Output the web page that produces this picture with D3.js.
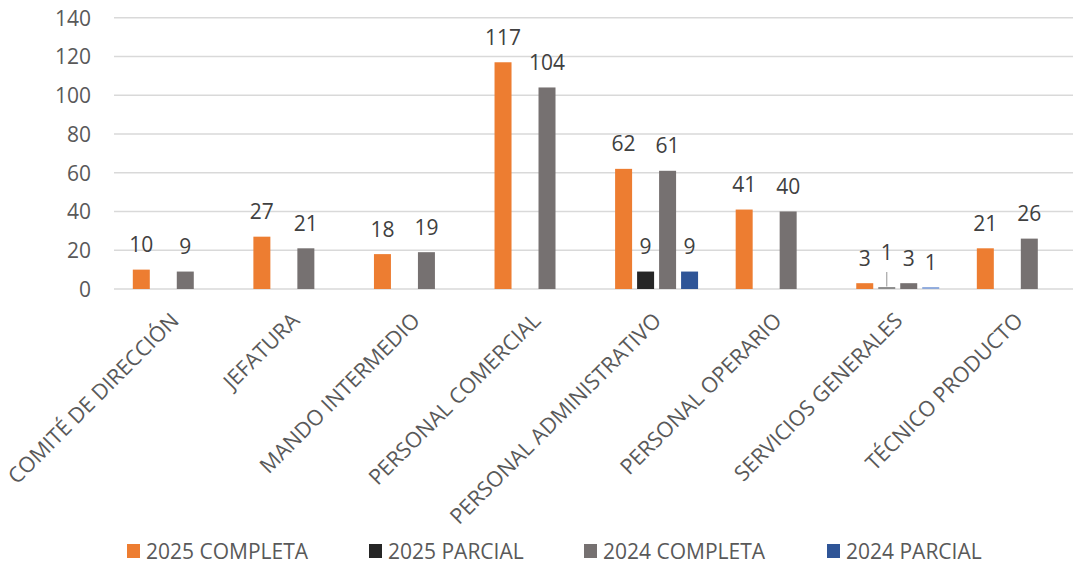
<!DOCTYPE html>
<html>
<head>
<meta charset="utf-8">
<script src="https://cdn.jsdelivr.net/npm/d3@7"></script>
<style>
  html, body { margin: 0; padding: 0; background: #fff; overflow: hidden; }
  svg { display: block; font-family: "Open Sans", sans-serif; }
</style>
</head>
<body>
<svg id="chart" width="1073" height="567"></svg>
<script>
const categories = ["COMITÉ DE DIRECCIÓN", "JEFATURA", "MANDO INTERMEDIO", "PERSONAL COMERCIAL",
  "PERSONAL ADMINISTRATIVO", "PERSONAL OPERARIO", "SERVICIOS GENERALES", "TÉCNICO PRODUCTO"];
const seriesNames = ["2025 COMPLETA", "2025 PARCIAL", "2024 COMPLETA", "2024 PARCIAL"];
const completa2025 = [10, 27, 18, 117, 62, 41, 3, 21];
const parcial2025  = [null, null, null, null, 9, null, 1, null];
const completa2024 = [9, 21, 19, 104, 61, 40, 3, 26];
const parcial2024  = [null, null, null, null, 9, null, 1, null];
const yTicks = [0, 20, 40, 60, 80, 100, 120, 140];

const seriesValues = [completa2025, parcial2025, completa2024, parcial2024];
const colors = ["#ED7D31", "#262626", "#767171", "#2F5597"];

const svg = d3.select("#chart");
const W = 1073;
const plotLeft = 114, plotRight = 1078.6, plotTop = 17.7, plotBottom = 289;
const FS = "21px";

const x0 = d3.scaleBand().domain(categories).range([plotLeft, plotRight]).padding(0);
const bw = x0.bandwidth();
const x1 = d3.scaleBand().domain(seriesNames).range([0, bw]).paddingInner(5 / 22).paddingOuter(0.855);
const y = d3.scaleLinear().domain([0, 140]).range([plotBottom, plotTop]);

// gridlines
svg.append("g").selectAll("line").data(yTicks).join("line")
  .attr("x1", plotLeft).attr("x2", W)
  .attr("y1", d => y(d)).attr("y2", d => y(d))
  .attr("stroke", "#d9d9d9").attr("stroke-width", 1.5);

// y axis labels
const yAxis = d3.axisLeft(y).tickValues(yTicks).tickSize(0).tickPadding(0);
const ya = svg.append("g").attr("transform", `translate(91,0)`).call(yAxis);
ya.select(".domain").remove();
ya.selectAll("text").attr("fill", "#595959").style("font-size", FS)
  .style("font-family", "'Open Sans', sans-serif").attr("dy", "0.35em");

// bars
const rows = [];
categories.forEach((c, i) => {
  seriesNames.forEach((s, k) => {
    const v = seriesValues[k][i];
    if (v !== null && v !== undefined) rows.push({ c, s, k, i, v });
  });
});

function barColor(d) {
  if (d.c === "SERVICIOS GENERALES" && d.k === 1) return "#8c8c8c";
  if (d.c === "SERVICIOS GENERALES" && d.k === 3) return "#8faadc";
  return colors[d.k];
}

svg.append("g").selectAll("rect").data(rows).join("rect")
  .attr("x", d => x0(d.c) + x1(d.s))
  .attr("width", x1.bandwidth())
  .attr("y", d => y(d.v))
  .attr("height", d => y(0) - y(d.v))
  .attr("fill", d => barColor(d));

// data labels
const labelOffset = 17.5;
function labelY(d) {
  if (d.c === "SERVICIOS GENERALES" && d.k === 1) return y(0) - 29;
  return y(d.v) - labelOffset;
}
svg.append("g").selectAll("text").data(rows).join("text")
  .attr("x", d => x0(d.c) + x1(d.s) + x1.bandwidth() / 2)
  .attr("y", d => labelY(d))
  .attr("text-anchor", "middle")
  .attr("fill", "#404040")
  .style("font-size", FS)
  .text(d => d.v);

// leader line for the displaced label
const leader = rows.filter(d => d.c === "SERVICIOS GENERALES" && d.k === 1);
svg.append("g").selectAll("path").data(leader).join("path")
  .attr("d", d => {
    const cx = x0(d.c) + x1(d.s) + x1.bandwidth() / 2;
    const top = y(0) - 17;
    const bot = y(d.v) - 0.5;
    return `M${cx},${top}V${bot}`;
  })
  .attr("stroke", "#a6a6a6").attr("stroke-width", 1.2).attr("fill", "none");

// category labels
svg.append("g").selectAll("text").data(categories).join("text")
  .attr("transform", d => `translate(${x0(d) + bw / 2 + 6},322) rotate(-45)`)
  .attr("text-anchor", "end")
  .attr("fill", "#595959")
  .style("font-size", "21.5px")
  .text(d => d);

// legend
const legendX = [127, 369, 584, 827];
const lg = svg.append("g").selectAll("g").data(seriesNames).join("g")
  .attr("transform", (d, i) => `translate(${legendX[i]},0)`);
lg.append("rect").attr("x", 0).attr("y", 544).attr("width", 13).attr("height", 14)
  .attr("fill", (d, i) => colors[i]);
lg.append("text").attr("x", 19).attr("y", 559)
  .attr("fill", "#595959").style("font-size", FS).text(d => d);
</script>
</body>
</html>
